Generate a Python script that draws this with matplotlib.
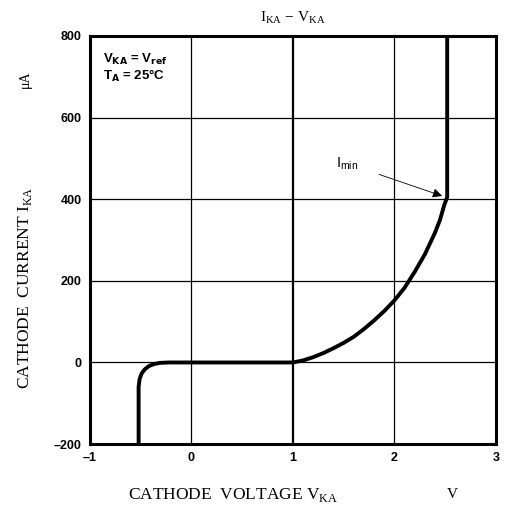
import matplotlib.pyplot as plt

# datos
volt = [-0.52, -0.52, -0.51, -0.49, -0.46, -0.42, -0.37, -0.31, -0.22, 0.0, 0.5, 1.0,
        1.1, 1.2, 1.3, 1.4, 1.5, 1.6, 1.7, 1.8, 1.9, 2.0, 2.1, 2.2, 2.3, 2.4, 2.45,
        2.49, 2.52, 2.52]
corriente = [-200, -60, -40, -27, -17, -9, -4, -1, 0, 0, 0, 0,
             5, 13, 23, 35, 48, 63, 82, 103, 126, 152, 183, 222, 265, 318, 350,
             385, 405, 800]
x_ticks = [-1, 0, 1, 2, 3]
y_ticks = [-200, 0, 200, 400, 600, 800]

serif = 'Liberation Serif'
sans = 'Liberation Sans'
plt.rcParams['mathtext.fontset'] = 'custom'
plt.rcParams['mathtext.rm'] = serif
plt.rcParams['mathtext.sf'] = sans

fig = plt.figure(figsize=(5.05, 5.14), dpi=100)
ax = fig.add_axes([0.178, 0.136, 0.804, 0.794])

ax.set_xlim(-1, 3)
ax.set_ylim(-200, 800)
ax.set_xticks(x_ticks)
ax.set_yticks(y_ticks)
ax.set_xticklabels([str(t).replace('-', '\u2013') for t in x_ticks], fontfamily=sans, fontweight='bold', fontsize=9)
ax.set_yticklabels([str(t).replace('-', '\u2013') for t in y_ticks], fontfamily=sans, fontweight='bold', fontsize=9)
ax.tick_params(length=0, pad=6)
for s in ax.spines.values():
    s.set_linewidth(2.2)

# rejilla
for t in x_ticks[1:-1]:
    ax.axvline(t, color='black', lw=1.6 if t == 1 else 0.9, zorder=1)
for t in y_ticks[1:-1]:
    ax.axhline(t, color='black', lw=0.9, zorder=1)

ax.plot(volt, corriente, color='black', lw=2.8, solid_capstyle='butt', solid_joinstyle='round', zorder=3)

ax.text(-0.87, 760, r'V$_{\mathbf{KA}}$ = V$_{\mathbf{ref}}$' + '\n' + r'T$_{\mathbf{A}}$ = 25°C',
        fontfamily=sans, fontweight='bold', fontsize=9.5, va='top', ha='left', linespacing=1.0,
        bbox=dict(facecolor='white', edgecolor='none', pad=3), zorder=4)

ax.annotate(r'I$_{\mathsf{min}}$', xy=(2.47, 408), xytext=(1.53, 488),
            fontfamily=sans, fontsize=10.5, ha='center', va='center',
            arrowprops=dict(arrowstyle='-|>', color='black', lw=0.6, mutation_scale=14,
                            shrinkA=14, shrinkB=0), zorder=5)

fig.text(0.58, 0.965, r'I$_{\mathrm{KA}}$ $-$ V$_{\mathrm{KA}}$', fontfamily=serif, fontsize=11, ha='center', va='center')
fig.text(0.253, 0.037, r'CATHODE  VOLTAGE V$_{\mathrm{KA}}$', fontfamily=serif, fontsize=12.5, ha='left', va='center')
fig.text(0.895, 0.037, 'V', fontfamily=serif, fontsize=11, ha='center', va='center')
fig.text(0.05, 0.44, r'CATHODE  CURRENT I$_{\mathrm{KA}}$', fontfamily=serif, fontsize=12.5, rotation=90, ha='center', va='center')
fig.text(0.05, 0.845, 'μA', fontfamily=serif, fontsize=10, rotation=90, ha='center', va='center')

fig.savefig('out.png', dpi=100)
